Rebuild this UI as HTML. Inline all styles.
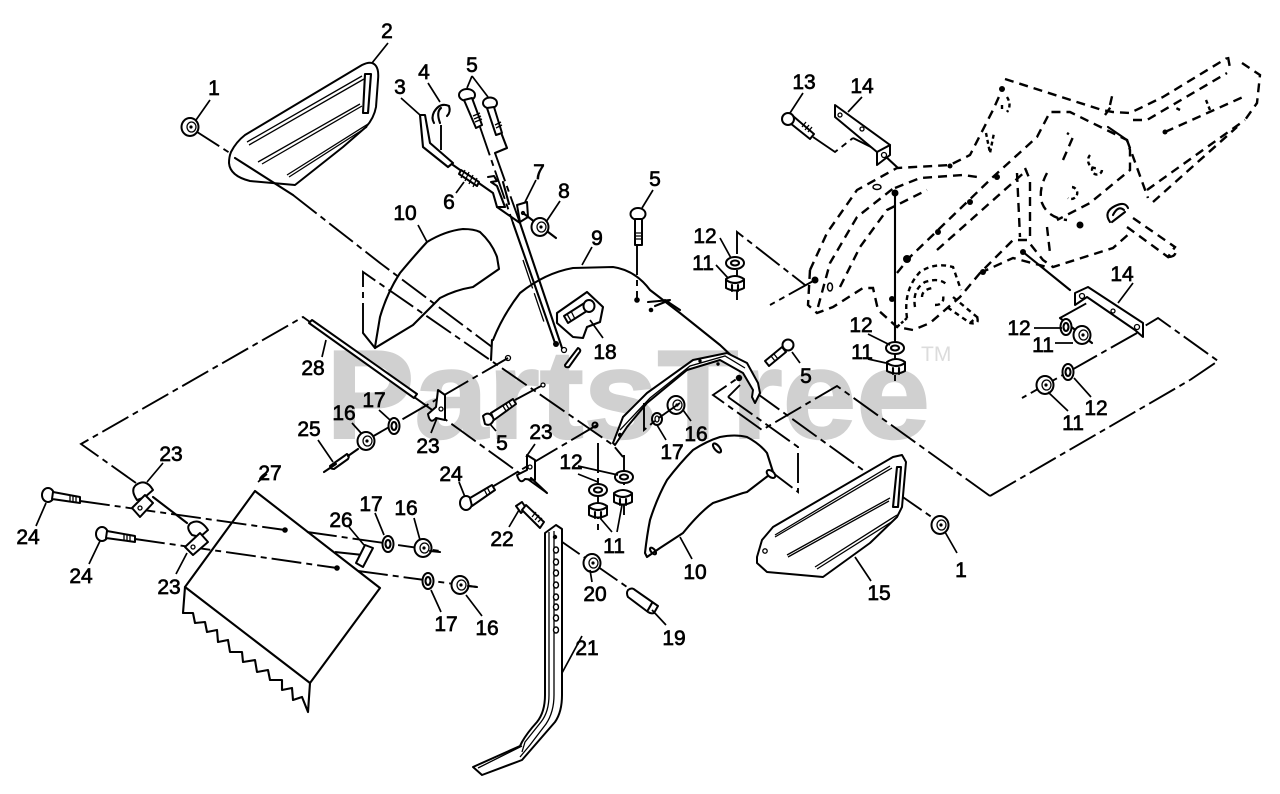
<!DOCTYPE html>
<html>
<head>
<meta charset="utf-8">
<style>
html,body{margin:0;padding:0;background:#fff}
svg{display:block}
.s{fill:none;stroke:#000;stroke-width:2.1;stroke-linejoin:round;stroke-linecap:round}
.w{fill:#fff;stroke:#000;stroke-width:2;stroke-linejoin:round}
.t{fill:none;stroke:#000;stroke-width:1.3}
.c{fill:none;stroke:#000;stroke-width:1.9;stroke-dasharray:30 5 6 5}
.d{fill:none;stroke:#000;stroke-width:2.4;stroke-dasharray:9 6}
.l{fill:none;stroke:#000;stroke-width:1.7}
.n text{font-family:"Liberation Sans",sans-serif;font-size:21px;fill:#000;stroke:#000;stroke-width:.65;text-anchor:middle}
</style>
</head>
<body>
<svg width="1280" height="794" viewBox="0 0 1280 794" xmlns="http://www.w3.org/2000/svg">
<defs>
<g id="nut"><ellipse class="w" rx="8.5" ry="9"/><ellipse class="t" cx="1.5" rx="4.5" ry="5"/><circle cx="1" r="1.6" fill="#000"/></g>
<g id="wsh"><ellipse class="w" rx="5.5" ry="8"/><ellipse class="s" rx="2.5" ry="4"/></g>
<g id="hw"><ellipse class="w" rx="9" ry="6"/><ellipse class="s" rx="4" ry="2.5"/></g>
<g id="hn"><path class="w" d="M-9-4 Q0-10 9-4 V5 Q0 10 -9 5Z"/><path class="s" d="M-9-3 Q0 3 9-3 M-3 2 V8 M3 2 V8"/></g>
</defs>
<rect width="1280" height="794" fill="#fff"/>
<text x="326" y="438" font-family="Liberation Sans, sans-serif" font-weight="bold" font-size="126" fill="#d0d0d0" stroke="#d0d0d0" stroke-width="2" textLength="604" lengthAdjust="spacingAndGlyphs">PartsTree</text>
<text x="921" y="361" font-family="Liberation Sans, sans-serif" font-size="21" fill="#dcdcdc">TM</text>

<!-- centre lines -->
<path class="c" d="M194 130 L233 155 M293 195 L380 263 L492 347"/>
<path class="c" d="M363 333 V272 L613 445 L623 457"/>
<path class="s" d="M363 333 L375 348"/>
<path class="c" d="M136 483 L81 444 L303 317 L460 430 L547 493"/>
<path class="c" d="M508 358 L365 441"/>
<path class="c" d="M1190 380 L1218 361 L1158 318 L1143 327"/>
<path class="c" d="M990 496 L1190 380 M990 496 L837 386 L762 430 L713 395 L738 378"/>
<path class="c" d="M728 397 L740 385 M728 397 L798 447 V492 L773 473"/>
<path class="c" d="M755 392 L863 470 M897 493 L933 518"/>
<path class="c" d="M1137 333 L1022 398"/>
<path class="c" d="M737 300 V232 L805 285 M815 280 L770 305"/>
<path class="c" d="M80 501 L285 530 M135 539 L337 568"/>
<path class="c" d="M307 532 L440 551 M335 552 L363 555 M358 571 L477 587"/>
<path class="c" d="M515 400 L543 385 M492 487 L597 425"/>
<path class="c" d="M598 443 V530 M624 455 V515"/>
<path class="c" d="M555 537 L627 587"/>
<path class="c" d="M480 127 L513 223 M495 153 L520 223"/>
<path class="s" d="M495 153 L507 148 L502 135"/>
<path class="c" d="M637 245 V300"/>
<path class="c" d="M813 137 L835 152 L853 138 M853 138 L873 148"/>
<path class="c" d="M1060 318 L1087 303"/>
<path class="s" d="M1060 318 L1092 343 M884 155 L898 168 M1023 252 L1070 290"/>
<path class="s" d="M895 193 V340"/><path class="c" d="M895 340 V382"/>

<!-- part 2 -->
<path class="w" d="M231 152 Q236 142 245 135 L362 65 Q372 60 376 66 Q379 70 378 80 L376 107 Q374 118 366 127 L343 147 L295 185 L250 181 Q230 176 229 163 Q229 157 231 152Z"/>
<path class="s" d="M235 158 L293 195"/>
<path class="t" d="M247 142 L362 76 M249 145 L364 79 M258 162 L360 104 M262 164 L362 106 M287 175 L368 124 M289 177 L367 127"/>
<path class="s" d="M365 74 L371 74 L368 113 L363 113Z" stroke-width="1.4"/>
<use href="#nut" x="190" y="127"/>

<!-- part 10 left -->
<path class="s" d="M375 347 L380 317 Q387 293 400 273 Q415 255 427 242 Q445 231 463 229 Q474 229 480 232 Q492 243 497 257 L499 269 L473 287 Q455 290 440 298 L413 325 L375 348"/>
<path class="s" d="M492 340 L491 360"/>

<!-- part 9 -->
<path class="s" d="M493 340 Q503 315 520 293 Q545 273 573 268 L613 267 Q635 270 650 290 L680 313 L720 345 L752 375"/>
<path class="s" d="M648 302 L670 300 L655 306 M665 300 L680 310"/><circle cx="651" cy="310" r="2.3" fill="#000"/><circle cx="637" cy="300" r="2.8" fill="#000"/>
<path class="w" d="M613 443 L623 417 L647 393 L693 360 L727 353 L747 363 L758 383 L760 393 L755 403 L752 397 L753 390 L743 373 L720 360 L687 370 L647 403 L627 427 L615 445Z"/>
<path class="t" d="M620 430 L650 398 L690 366 L725 356 L745 368"/>
<circle cx="620" cy="435" r="2.2" fill="#000"/><circle cx="700" cy="361" r="1.7" fill="#000"/><circle cx="718" cy="364" r="1.7" fill="#000"/>
<circle cx="739" cy="378" r="3.2" fill="#000"/>

<!-- rods + bolts 5 -->
<ellipse class="w" cx="467" cy="95" rx="8" ry="6"/><path class="w" d="M464 100 L472 98 L482 125 L476 128Z"/>
<path class="t" d="M473 116 L480 113 M474 119 L481 116 M475 122 L482 119"/>
<ellipse class="w" cx="490" cy="103" rx="7" ry="5.5"/><path class="w" d="M487 108 L494 107 L502 133 L496 135Z"/>
<path class="t" d="M495 125 L501 122 M496 128 L502 125"/>
<path class="s" d="M513 223 L555 343 M520 223 L562 348"/>
<path class="t" d="M523 260 L545 325" stroke-dasharray="30 5"/>
<circle cx="556" cy="344" r="3" fill="#000"/><circle class="t" cx="564" cy="350" r="2.5"/>

<!-- parts 3,4,6,7,8 -->
<path class="s" d="M420 115 L425 115 L430 143 L453 163 L448 167 L423 147Z"/>
<path class="s" d="M453 165 L493 193 L497 207 L520 223"/>
<path class="s" d="M434 112 Q440 102 449 106 Q451 112 447 116 M434 112 Q431 118 434 123 M441 108 Q436 112 440 123"/>
<path class="c" d="M441 125 V150"/>
<path class="w" d="M461 170 L479 182 L477 186 L459 174Z"/><path class="t" d="M465 170 L461 178 M469 172 L465 181 M473 175 L469 184 M477 178 L473 187"/>
<path class="s" d="M488 177 L494 176 L497 181 L491 182 L497 186 L505 207 L497 207"/>
<path class="s" d="M503 182 L509 204"/>
<path class="w" d="M517 205 L527 202 L528 217 L520 222Z"/><circle class="t" cx="523" cy="213" r="1.5"/>
<path class="s" d="M523 213 L556 238"/>
<use href="#nut" x="540" y="227"/>

<!-- bolt 5 top -->
<ellipse class="w" cx="638" cy="214" rx="7.5" ry="6"/><path class="w" d="M635 219 H642 V245 H635Z"/><path class="t" d="M635 233 H642 M635 236 H642 M635 239 H642"/>

<!-- 18 -->
<path class="s" d="M557 313 L587 292 L603 307 L600 322 L587 327 L583 338 L573 337 L557 323Z"/>
<path class="w" d="M564 316 L586 302 L590 309 L568 323Z"/><ellipse class="w" cx="589" cy="306" rx="5.5" ry="6"/>
<path class="t" d="M567 314 L571 321 M571 311 L575 319"/>
<path class="w" d="M565 365 L578 348 Q582 350 579 353 L569 367 Q565 368 565 365Z"/>
<circle class="t" cx="508" cy="358" r="2.5"/><circle class="t" cx="543" cy="385" r="2"/><circle class="s" cx="595" cy="425" r="2.5"/>

<!-- 28 rod -->
<path class="w" d="M309 323 L312 320 L417 394 L414 398Z"/>
<!-- 23 bracket upper -->
<path class="w" d="M438 390 L445 395 V420 L436 418 Q430 425 428 414 L436 407Z"/><circle class="t" cx="441" cy="409" r="2"/>
<use href="#wsh" x="394" y="426"/>
<use href="#nut" x="366" y="441"/>
<path class="w" d="M330 466 L347 454 Q350 456 348 459 L334 469 Q330 469 330 466Z"/><path class="s" d="M324 472 L336 464 M348 456 L358 449"/>
<!-- 5 mid -->
<path class="w" d="M483 416 Q489 410 494 419 Q491 427 485 424Z"/><path class="w" d="M491 413 L513 399 L516 404 L494 420Z"/>
<path class="t" d="M503 406 L506 411 M506 404 L509 409 M509 402 L512 407"/>
<!-- 24 mid -->
<ellipse class="w" cx="466" cy="503" rx="6" ry="7"/><path class="w" d="M470 498 L492 485 L495 490 L472 506Z"/>
<path class="t" d="M484 489 L487 495 M487 487 L490 493"/>
<!-- 23 mid bracket -->
<path class="w" d="M527 455 L535 460 V480 L525 479 Q520 485 517 475 L527 470Z"/><circle class="t" cx="530" cy="467" r="2"/><path class="s" d="M531 478 L547 493"/>
<!-- 12 / 11 mid -->
<use href="#hw" x="624" y="477"/><use href="#hw" x="598" y="490"/>
<use href="#hn" x="623" y="497"/><use href="#hn" x="598" y="510"/>
<!-- 22, 20, 19 -->
<path class="w" d="M516 506 L522 502 L526 508 L521 513Z"/><path class="w" d="M522 510 L526 505 L544 522 L540 528Z"/>
<path class="t" d="M532 517 L536 512 M535 520 L539 515 M538 522 L542 518"/>
<use href="#nut" x="592" y="563"/>
<path class="w" d="M628 590 Q632 587 635 590 L658 606 L654 613 Q651 614 648 612 L628 597Q626 593 628 590Z"/>
<path class="s" d="M652 603 L648 610"/>

<!-- 21 -->
<path class="w" d="M545 533 L556 525 L562 529 V695 Q562 712 555 722 L522 760 L482 775 L473 767 L520 746 L522 742 Q527 733 537 722 Q545 712 545 695Z"/>
<path class="t" d="M549 532 V695 Q549 712 541 722 L525 742 L522 752 M554 531 V695 Q554 712 546 724 L530 745 L520 757 M522 746 L478 768"/>
<g fill="#fff" stroke="#000" stroke-width="1.4"><ellipse cx="556" cy="550" rx="2.5" ry="3"/><ellipse cx="556" cy="562" rx="2.5" ry="3"/><ellipse cx="556" cy="573" rx="2.5" ry="3"/><ellipse cx="556" cy="585" rx="2.5" ry="3"/><ellipse cx="556" cy="597" rx="2.5" ry="3"/><ellipse cx="556" cy="607" rx="2.5" ry="3"/><ellipse cx="556" cy="618" rx="2.5" ry="3"/><ellipse cx="556" cy="630" rx="2.5" ry="3"/></g>
<circle cx="555" cy="537" r="2.2" fill="#000"/>

<!-- 10 right -->
<path class="s" d="M645 553 Q647 535 650 520 Q657 498 667 480 Q680 463 693 450 Q707 441 720 437 Q735 434 747 437 Q760 444 767 453 L773 472 L747 492 L743 493 L713 503 Q700 512 683 533 L660 548 L647 557Z"/>
<ellipse class="s" cx="717" cy="448" rx="2.5" ry="5.5" transform="rotate(-40 717 448)"/>
<ellipse class="s" cx="653" cy="551" rx="2" ry="4" transform="rotate(-40 653 551)"/>
<ellipse class="w" cx="771" cy="474" rx="3" ry="5" transform="rotate(-50 771 474)"/>

<!-- 15 -->
<path class="w" d="M757 557 L762 540 L773 527 L893 457 L902 455 L906 462 L902 507 L897 517 L870 543 L823 577 L767 572 L757 563Z"/>
<path class="t" d="M775 537 L892 468 M775 535 L890 466 M787 555 L890 498 M788 557 L889 501 M815 567 L897 515 M817 569 L893 521"/>
<path class="s" d="M897 467 L901 467 L898 507 L893 507Z" stroke-width="1.4"/>
<circle class="t" cx="765" cy="551" r="2.2"/>
<use href="#nut" x="940" y="525"/>

<!-- 5 right -->
<path class="w" d="M765 361 L782 347 L786 352 L769 366Z"/><path class="t" d="M771 356 L775 361 M774 354 L778 359"/><ellipse class="w" cx="788" cy="345" rx="5.5" ry="5.5"/>
<ellipse class="w" cx="657" cy="419" rx="5" ry="6"/><ellipse class="t" cx="657" cy="419" rx="2" ry="3"/>
<use href="#nut" x="676" y="405"/>
<path class="c" d="M644 403 V430 L656 420 L670 410 L680 403"/>

<!-- 27 -->
<path class="s" d="M185 587 L255 491 L380 588 L310 683 Z"/>
<path class="s" d="M185 587 L183 613 L193 613 L195 623 L205 622 L207 632 L217 630 L218 642 L228 640 L230 652 L242 652 L243 662 L255 660 L257 672 L268 670 L270 680 L282 680 L282 690 L292 688 L293 700 L302 697 L308 712 L310 683"/>
<!-- 24 left -->
<ellipse class="w" cx="48" cy="495" rx="6" ry="7"/><path class="w" d="M53 492 L80 497 L80 503 L52 499Z"/><path class="t" d="M70 495 L70 502 M73 496 L73 502 M76 496 L76 503"/>
<ellipse class="w" cx="102" cy="534" rx="6" ry="7"/><path class="w" d="M107 531 L135 536 L135 542 L106 538Z"/><path class="t" d="M124 534 L124 541 M127 535 L127 541 M130 535 L130 542"/>
<circle cx="285" cy="530" r="2.8" fill="#000"/><circle cx="337" cy="568" r="2.8" fill="#000"/>
<!-- 23 left -->
<path class="s" d="M153 497 L187 523"/>
<path class="w" d="M137 500 Q130 490 136 485 Q146 478 153 490 L145 497Z"/>
<path class="w" d="M132 508 L145 495 L153 503 L140 517Z"/><circle class="t" cx="140" cy="508" r="2"/>
<path class="w" d="M192 535 Q185 527 191 523 Q200 518 208 530 L200 537Z"/>
<path class="w" d="M185 547 L200 533 L208 542 L193 555Z"/><circle class="t" cx="193" cy="547" r="2"/>
<!-- 26 -->
<path class="w" d="M365 545 L373 548 L363 567 L356 563Z"/>
<use href="#wsh" x="388" y="544"/><use href="#nut" x="423" y="548"/><path class="s" d="M430 551 L440 552"/>
<use href="#wsh" x="428" y="581"/><use href="#nut" x="460" y="585"/><path class="s" d="M468 586 L477 587"/>

<!-- 12/11 left -->
<use href="#hw" x="735" y="263"/><use href="#hn" x="735" y="283"/>
<use href="#hw" x="895" y="348"/><use href="#hn" x="896" y="366"/>

<!-- right assembly -->
<path class="d" d="M810 270 L827 233 L857 190 L897 168 L950 165 L970 155 L993 110 L1002 90"/>
<path class="d" d="M1005 79 L1102 110 L1113 112 L1130 113 L1163 97 L1227 58"/>
<path class="d" d="M1242 63 L1260 75 L1257 103 L1245 120 M1228 57 L1230 68"/>
<path class="d" d="M1133 120 L1147 120 L1227 73 M1165 132 L1243 97 M1147 190 L1245 120 M1153 202 L1237 127"/>
<path class="d" d="M895 188 L920 178 L963 175 L977 177"/>
<path class="d" d="M810 270 L808 305 L817 313 L833 307 L863 288 L873 288 L878 310 L897 327 L913 330 L930 323 L960 297 L980 273 L1013 240 L1027 240 L1043 260 L1053 267 L1113 248 L1130 233"/>
<path class="d" d="M980 273 L1013 258 L1047 267"/>
<path class="d" d="M818 307 L830 263 L857 217 L895 187"/>
<path class="d" d="M840 287 L860 247 L887 210 L927 190"/>
<path class="d" d="M897 273 L910 257 L993 177 L1037 137 L1050 112 L1070 112 L1127 140 L1130 150 L1130 170 L1090 203 L1057 220"/>
<path class="d" d="M937 250 L1027 170 M1017 173 L1020 237 M1025 168 L1030 180 L1030 237"/>
<path class="d" d="M1047 173 Q1038 190 1042 203 Q1048 218 1067 220 M1047 227 L1050 253 M1063 160 L1073 137 L1067 133"/>
<path class="d" d="M1127 140 L1148 198 M1110 105 L1113 92 M1105 115 L1112 105" stroke-width="1.6"/>
<path class="d" d="M1127 227 L1168 257 L1175 247 L1133 218 M1168 257 Q1178 257 1175 247"/>
<path class="s" d="M1108 127 L1127 140"/>
<path class="d" style="stroke-dasharray:4 3" d="M1007 97 Q1012 105 1007 112 M1002 105 V112 M986 133 L990 153 L994 133 M1102 170 A5 5 0 1 1 1095 165 M1072 187 A6 6 0 1 1 1068 198 M1090 155 A8 8 0 0 0 1098 168 M1206 100 L1210 110 M1180 110 L1176 108"/>
<path class="s" d="M1110 222 Q1103 212 1115 206 Q1125 201 1128 208 M1112 222 L1125 212 M1113 215 Q1118 205 1124 210"/>
<path class="d" style="stroke-dasharray:5 4" d="M907 318 Q903 290 920 272 Q935 262 953 267 L961 290 M915 307 Q912 290 925 282 Q940 277 947 285 M922 297 Q922 290 932 288 M935 305 Q945 305 943 295 M953 297 L977 317 L970 323 L947 307 M977 317 Q980 325 970 323"/>
<path class="d" d="M907 318 L897 327" style="stroke-dasharray:3 2"/>
<g fill="#000"><circle cx="895" cy="193" r="3.5"/><circle cx="907" cy="259" r="4"/><circle cx="938" cy="232" r="3"/><circle cx="970" cy="202" r="3"/><circle cx="997" cy="177" r="3"/><circle cx="950" cy="166" r="2.5"/><circle cx="1002" cy="89" r="3"/><circle cx="815" cy="280" r="3.5"/><circle cx="1023" cy="252" r="3"/><circle cx="892" cy="299" r="3"/><circle cx="983" cy="272" r="3"/><circle cx="1080" cy="225" r="3.5"/><circle cx="1165" cy="132" r="2.5"/></g>
<g fill="none" stroke="#000" stroke-width="1.5"><ellipse cx="877" cy="187" rx="4" ry="2.5"/><ellipse cx="830" cy="287" rx="2.5" ry="4"/></g>

<!-- brackets 14 + bolt 13 -->
<path class="w" d="M835 105 L890 145 V155 L877 165 V152 L835 117Z"/><path class="s" d="M877 152 L890 145"/>
<g class="t"><circle cx="840" cy="115" r="2"/><circle cx="862" cy="129" r="2"/><circle cx="884" cy="155" r="2.5"/></g>
<path class="w" d="M793 116 L814 134 L810 139 L790 123Z"/><path class="t" d="M802 127 L806 122 M805 130 L809 125 M808 132 L812 127"/><ellipse class="w" cx="788" cy="119" rx="6" ry="6"/>
<path class="w" d="M1075 293 L1088 287 L1143 323 V337 L1135 330 L1087 297 L1075 305Z"/>
<g class="t"><circle cx="1082" cy="296" r="2.5"/><circle cx="1113" cy="311" r="2"/><circle cx="1137" cy="327" r="2.5"/></g>
<use href="#wsh" x="1066" y="327"/><use href="#nut" x="1082" y="335"/>
<use href="#wsh" x="1068" y="372"/><use href="#nut" x="1045" y="385"/>

<!-- leaders -->
<path class="l" d="M210 100 L196 120 M388 43 L372 63 M401 98 L420 115 M428 83 L440 102 M472 76 L467 88 M472 76 L488 97 M456 193 L464 182 M536 180 L525 202 M560 201 L546 222 M592 247 L582 265 M418 225 L427 242 M653 190 L642 208 M803 93 L790 113 M862 97 L848 112 M1133 283 L1118 303 M720 238 L731 258 M716 265 L728 278 M603 338 L590 320 M322 357 L326 340 M379 410 L390 420 M352 423 L361 433 M318 440 L333 462 M431 433 L437 418 M496 431 L490 424 M535 444 L526 457 M459 482 L465 497 M578 474 L598 482 M578 466 L618 475 M612 532 L600 518 M617 532 L622 505 M509 527 L519 510 M592 582 L590 570 M666 625 L652 610 M582 636 L562 673 M692 559 L680 537 M666 440 L657 425 M691 421 L683 410 M800 363 L792 352 M868 334 L890 345 M868 359 L886 363 M1034 328 L1062 328 M1055 343 L1073 343 M1091 397 L1074 378 M1068 411 L1048 392 M957 553 L945 532 M871 581 L855 557 M163 463 L147 482 M258 482 L267 474 M36 526 L46 503 M89 564 L100 541 M176 574 L187 553 M349 527 L364 545 M375 513 L384 535 M414 518 L420 540 M441 612 L431 590 M482 616 L466 595"/>

<!-- labels -->
<g class="n">
<text x="214" y="95">1</text><text x="387" y="38">2</text><text x="400" y="94">3</text><text x="424" y="79">4</text><text x="472" y="72">5</text><text x="449" y="209">6</text><text x="539" y="179">7</text><text x="564" y="198">8</text><text x="597" y="245">9</text><text x="405" y="220">10</text><text x="655" y="186">5</text><text x="804" y="89">13</text><text x="862" y="93">14</text><text x="705" y="243">12</text><text x="703" y="270">11</text><text x="605" y="359">18</text><text x="313" y="375">28</text><text x="374" y="407">17</text><text x="344" y="420">16</text><text x="309" y="436">25</text><text x="428" y="453">23</text><text x="502" y="450">5</text><text x="541" y="439">23</text><text x="451" y="481">24</text><text x="571" y="469">12</text><text x="614" y="553">11</text><text x="502" y="546">22</text><text x="595" y="601">20</text><text x="674" y="645">19</text><text x="587" y="655">21</text><text x="695" y="579">10</text><text x="672" y="459">17</text><text x="696" y="441">16</text><text x="806" y="383">5</text><text x="861" y="332">12</text><text x="862" y="359">11</text><text x="1019" y="335">12</text><text x="1043" y="352">11</text><text x="1122" y="281">14</text><text x="1096" y="415">12</text><text x="1073" y="430">11</text><text x="961" y="577">1</text><text x="879" y="600">15</text><text x="171" y="461">23</text><text x="270" y="480">27</text><text x="28" y="544">24</text><text x="81" y="583">24</text><text x="169" y="594">23</text><text x="341" y="527">26</text><text x="371" y="511">17</text><text x="406" y="515">16</text><text x="446" y="631">17</text><text x="487" y="635">16</text>
</g>
</svg>
</body>
</html>
